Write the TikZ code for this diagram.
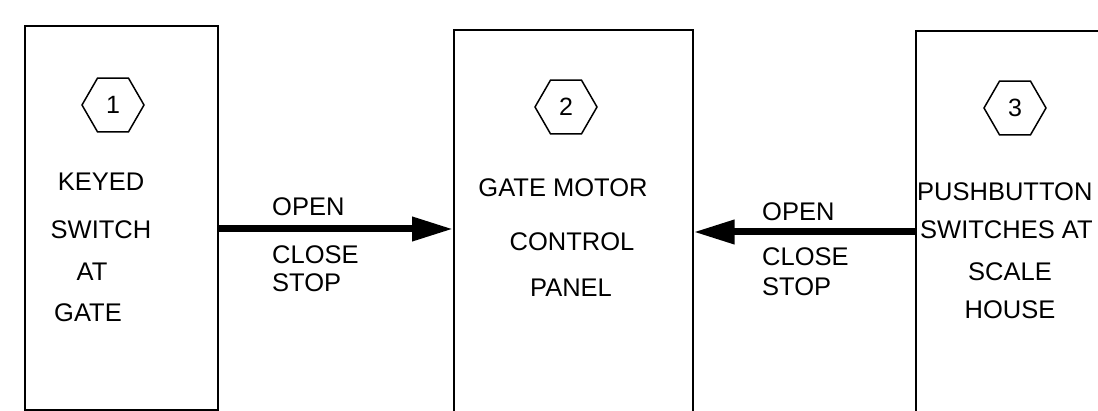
\documentclass[tikz,border=0pt]{standalone}
\usepackage{fontspec}
\setmainfont{Liberation Sans}
\usetikzlibrary{shapes.geometric,arrows.meta}
\tikzset{
  box/.style={draw, line width=1.6pt, inner sep=0pt, anchor=north west},
  hexa/.style={draw, regular polygon, regular polygon sides=6, minimum size=62pt, inner sep=0pt, line width=1.5pt, font=\fontsize{25}{28}\selectfont},
  lbl/.style={inner sep=0pt, font=\fontsize{25.5}{28}\selectfont},
  conn/.style={line width=7pt, -{Triangle[length=41pt,width=23pt]}}
}
\begin{document}
\begin{tikzpicture}[x=1pt,y=-1pt]
\useasboundingbox (0,0) rectangle (1098,411);
\clip (0,0) rectangle (1098,411);
% boxes
\node[box, minimum width=193pt, minimum height=384pt] (b1) at (24,25) {};
\node[box, minimum width=239pt, minimum height=400pt] (b2) at (453,29) {};
\node[box, minimum width=220pt, minimum height=400pt] (b3) at (915,30) {};
% hexagons
\node[hexa] (h1) at (113,105) {1};
\node[hexa] (h2) at (566,107) {2};
\node[hexa] (h3) at (1015,108) {3};
% box 1 text
\node[lbl] (t11) at (101,182) {KEYED};
\node[lbl] (t12) at (101,230) {SWITCH};
\node[lbl] (t13) at (92,272) {AT};
\node[lbl] (t14) at (88,313) {GATE};
% box 2 text
\node[lbl] (t21) at (563,188) {GATE MOTOR};
\node[lbl] (t22) at (572,242) {CONTROL};
\node[lbl] (t23) at (571,288) {PANEL};
% box 3 text
\node[lbl, anchor=west] (t31) at (917,192) {PUSHBUTTON};
\node[lbl, anchor=west] (t32) at (920,230) {SWITCHES AT};
\node[lbl] (t33) at (1010,272) {SCALE};
\node[lbl] (t34) at (1010,310) {HOUSE};
% arrow labels
\node[lbl, anchor=west] (o1) at (272,207) {OPEN};
\node[lbl, anchor=west] (c1) at (272,255) {CLOSE};
\node[lbl, anchor=west] (s1) at (272,283) {STOP};
\node[lbl, anchor=west] (o2) at (762,212) {OPEN};
\node[lbl, anchor=west] (c2) at (762,257) {CLOSE};
\node[lbl, anchor=west] (s2) at (762,287) {STOP};
% connectors
\coordinate (y1) at (0,229);
\coordinate (y2) at (0,232);
\draw[conn] (b1.east |- y1) -- (b2.west |- y1);
\draw[conn] (b3.west |- y2) -- (b2.east |- y2);
\end{tikzpicture}
\end{document}
